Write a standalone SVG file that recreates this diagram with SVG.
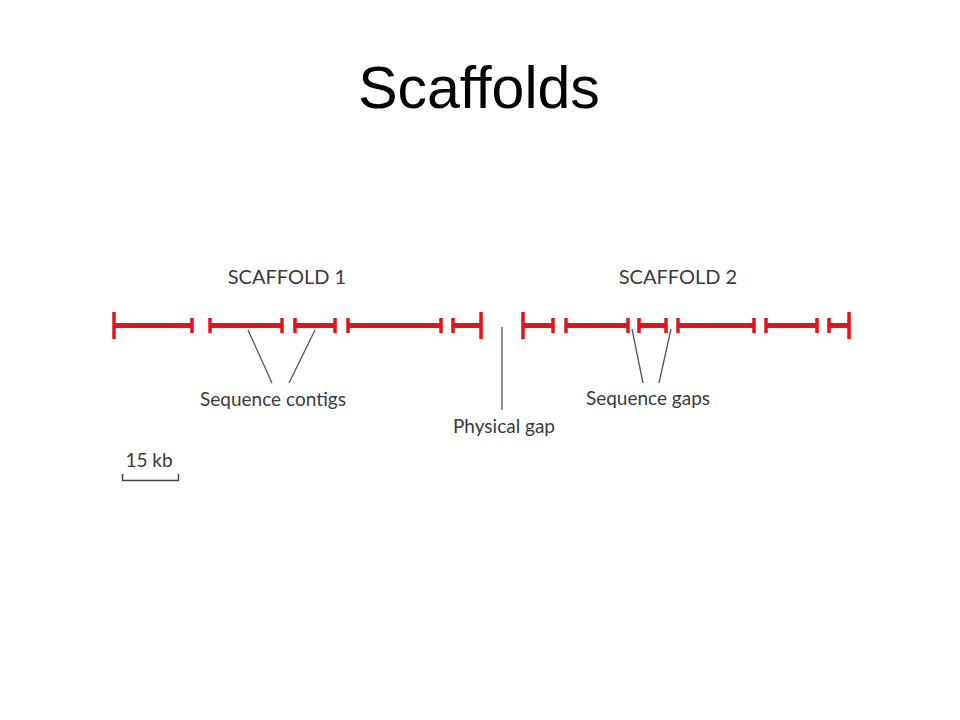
<svg xmlns="http://www.w3.org/2000/svg" width="960" height="720" viewBox="0 0 960 720">
<style>
.bar{stroke:#e3131b;stroke-width:5;fill:none}
.cap{stroke:#e3131b;stroke-width:3.5;fill:none}
.lead{stroke:#555;stroke-width:1.3;fill:none}
.lbl{font-family:Lato,"Open Sans","Liberation Sans",sans-serif;fill:#3a3a3a;font-size:19px}
.hd{font-family:Lato,"Open Sans","Liberation Sans",sans-serif;fill:#3a3a3a;font-size:20px}
</style>
<rect width="960" height="720" fill="#fff"/>
<text x="479" y="108" text-anchor="middle" font-family="'Liberation Sans',Arial,sans-serif" font-size="59" fill="#000">Scaffolds</text>
<g id="scaffold1">
<text class="hd" x="287" y="284" text-anchor="middle">SCAFFOLD 1</text>
<g id="s1c1"><line class="bar" x1="113" y1="325.5" x2="193" y2="325.5"/><line class="cap" x1="114" y1="312" x2="114" y2="339"/><line class="cap" x1="192" y1="318" x2="192" y2="333"/></g>
<g id="s1c2"><line class="bar" x1="209" y1="325.5" x2="283" y2="325.5"/><line class="cap" x1="210" y1="318" x2="210" y2="333"/><line class="cap" x1="282" y1="318" x2="282" y2="333"/></g>
<g id="s1c3"><line class="bar" x1="294" y1="325.5" x2="336" y2="325.5"/><line class="cap" x1="295" y1="318" x2="295" y2="333"/><line class="cap" x1="335" y1="318" x2="335" y2="333"/></g>
<g id="s1c4"><line class="bar" x1="347" y1="325.5" x2="442" y2="325.5"/><line class="cap" x1="348" y1="318" x2="348" y2="333"/><line class="cap" x1="441" y1="318" x2="441" y2="333"/></g>
<g id="s1c5"><line class="bar" x1="452" y1="325.5" x2="482" y2="325.5"/><line class="cap" x1="453" y1="318" x2="453" y2="333"/><line class="cap" x1="481" y1="312" x2="481" y2="339"/></g>
</g>
<g id="scaffold2">
<text class="hd" x="678" y="284" text-anchor="middle">SCAFFOLD 2</text>
<g id="s2c1"><line class="bar" x1="522" y1="325.5" x2="554" y2="325.5"/><line class="cap" x1="523" y1="312" x2="523" y2="339"/><line class="cap" x1="553" y1="318" x2="553" y2="333"/></g>
<g id="s2c2"><line class="bar" x1="565" y1="325.5" x2="629" y2="325.5"/><line class="cap" x1="566" y1="318" x2="566" y2="333"/><line class="cap" x1="628" y1="318" x2="628" y2="333"/></g>
<g id="s2c3"><line class="bar" x1="638" y1="325.5" x2="667" y2="325.5"/><line class="cap" x1="639" y1="318" x2="639" y2="333"/><line class="cap" x1="666" y1="318" x2="666" y2="333"/></g>
<g id="s2c4"><line class="bar" x1="677" y1="325.5" x2="755" y2="325.5"/><line class="cap" x1="678" y1="318" x2="678" y2="333"/><line class="cap" x1="754" y1="318" x2="754" y2="333"/></g>
<g id="s2c5"><line class="bar" x1="765" y1="325.5" x2="818" y2="325.5"/><line class="cap" x1="766" y1="318" x2="766" y2="333"/><line class="cap" x1="817" y1="318" x2="817" y2="333"/></g>
<g id="s2c6"><line class="bar" x1="828" y1="325.5" x2="850" y2="325.5"/><line class="cap" x1="829" y1="318" x2="829" y2="333"/><line class="cap" x1="849" y1="312" x2="849" y2="339"/></g>
</g>
<g id="connectors">
<line class="lead" x1="248" y1="330" x2="272" y2="383"/>
<line class="lead" x1="315" y1="330" x2="289" y2="383"/>
<line class="lead" x1="502" y1="327" x2="502" y2="410" stroke="#222"/>
<line class="lead" x1="632" y1="329" x2="643" y2="383"/>
<line class="lead" x1="671" y1="329" x2="659" y2="383"/>
</g>
<g id="label-contigs"><text class="lbl" x="273" y="406" text-anchor="middle">Sequence contigs</text></g>
<g id="label-physgap"><text class="lbl" x="504" y="433" text-anchor="middle">Physical gap</text></g>
<g id="label-seqgaps"><text class="lbl" x="648" y="405" text-anchor="middle">Sequence gaps</text></g>
<g id="scalebar">
<text class="lbl" x="149" y="467" text-anchor="middle">15 kb</text>
<path d="M122.5 474 V480.5 H178.5 V474" fill="none" stroke="#444" stroke-width="1.5"/>
</g>
</svg>
